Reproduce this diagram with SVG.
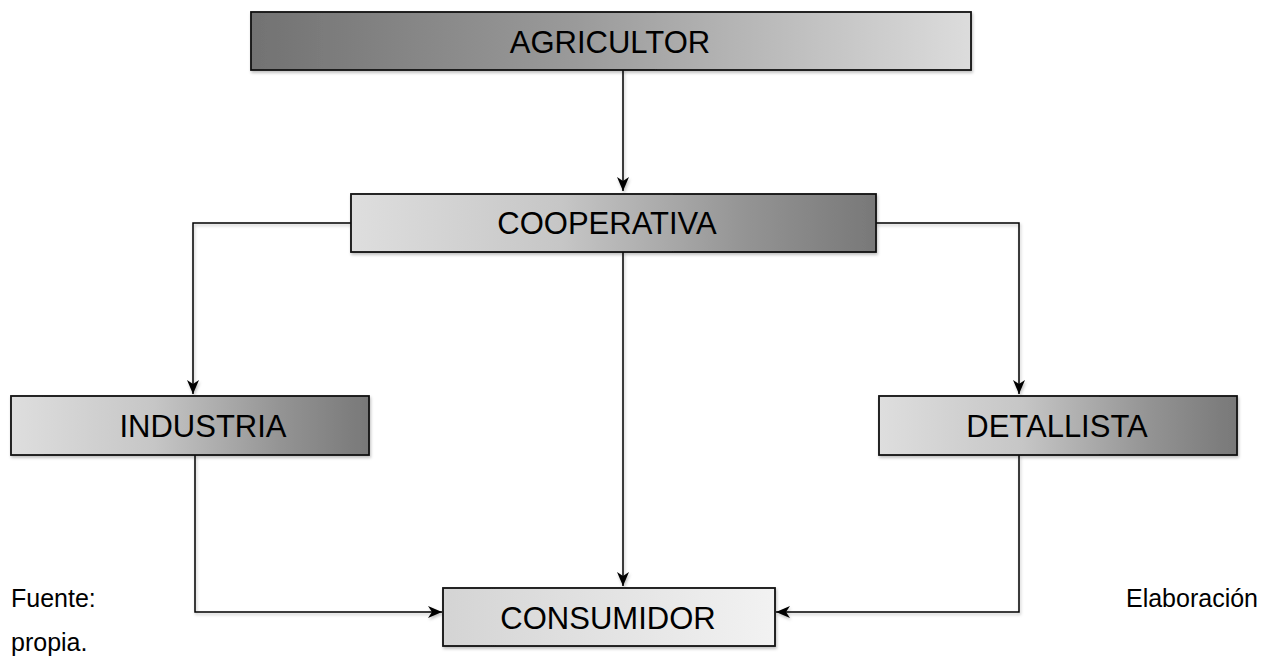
<svg xmlns="http://www.w3.org/2000/svg" width="1270" height="660" viewBox="0 0 1270 660">
<defs>
<linearGradient id="gDarkLight" x1="0" y1="0" x2="1" y2="0">
<stop offset="0" stop-color="#727272"/>
<stop offset="0.45" stop-color="#9a9a9a"/>
<stop offset="1" stop-color="#dcdcdc"/>
</linearGradient>
<linearGradient id="gLightDark" x1="0" y1="0" x2="1" y2="0">
<stop offset="0" stop-color="#dedede"/>
<stop offset="0.4" stop-color="#c6c6c6"/>
<stop offset="0.75" stop-color="#949494"/>
<stop offset="1" stop-color="#787878"/>
</linearGradient>
<linearGradient id="gLight" x1="0" y1="0" x2="1" y2="0">
<stop offset="0" stop-color="#d4d4d4"/>
<stop offset="1" stop-color="#f2f2f2"/>
</linearGradient>
<filter id="sh" filterUnits="userSpaceOnUse" x="0" y="0" width="1270" height="660">
<feDropShadow dx="1" dy="2" stdDeviation="1.5" flood-color="#000" flood-opacity="0.25"/>
</filter>
<marker id="arr" viewBox="0 0 14 12" refX="14" refY="6" markerWidth="14" markerHeight="12" markerUnits="userSpaceOnUse" orient="auto">
<path d="M0,0 L14,6 L0,12 L4,6 Z" fill="#000"/>
</marker>
</defs>
<style>
.box{stroke:#111;stroke-width:1.8;filter:url(#sh)}
.lbl{font-family:"Liberation Sans",Arial,sans-serif;font-size:31px;fill:#000;text-anchor:middle}
.src{font-family:"Liberation Sans",Arial,sans-serif;font-size:25px;fill:#000}
.con{fill:none;stroke:#000;stroke-width:1.5;marker-end:url(#arr);filter:url(#sh)}
</style>
<g id="connectors">
<path class="con" d="M623,70 V191"/>
<path class="con" d="M351,223 H193 V394"/>
<path class="con" d="M876,223 H1019 V394"/>
<path class="con" d="M623,252 V586"/>
<path class="con" d="M195,455 V612 H442"/>
<path class="con" d="M1019,455 V612 H776"/>
</g>
<g id="agricultor">
<rect class="box" x="251" y="12" width="720" height="58" fill="url(#gDarkLight)"/>
<text class="lbl" x="610" y="53">AGRICULTOR</text>
</g>
<g id="cooperativa">
<rect class="box" x="351" y="194" width="525" height="58" fill="url(#gLightDark)"/>
<text class="lbl" x="607" y="234">COOPERATIVA</text>
</g>
<g id="industria">
<rect class="box" x="11" y="396" width="358" height="59" fill="url(#gLightDark)"/>
<text class="lbl" x="203" y="437">INDUSTRIA</text>
</g>
<g id="detallista">
<rect class="box" x="879" y="396" width="358" height="59" fill="url(#gLightDark)"/>
<text class="lbl" x="1057" y="437">DETALLISTA</text>
</g>
<g id="consumidor">
<rect class="box" x="443" y="588" width="332" height="58" fill="url(#gLight)"/>
<text class="lbl" x="608" y="629">CONSUMIDOR</text>
</g>
<g id="source">
<text class="src" x="11" y="607">Fuente:</text>
<text class="src" x="1258" y="607" text-anchor="end">Elaboración</text>
<text class="src" x="11" y="651">propia.</text>
</g>
</svg>
